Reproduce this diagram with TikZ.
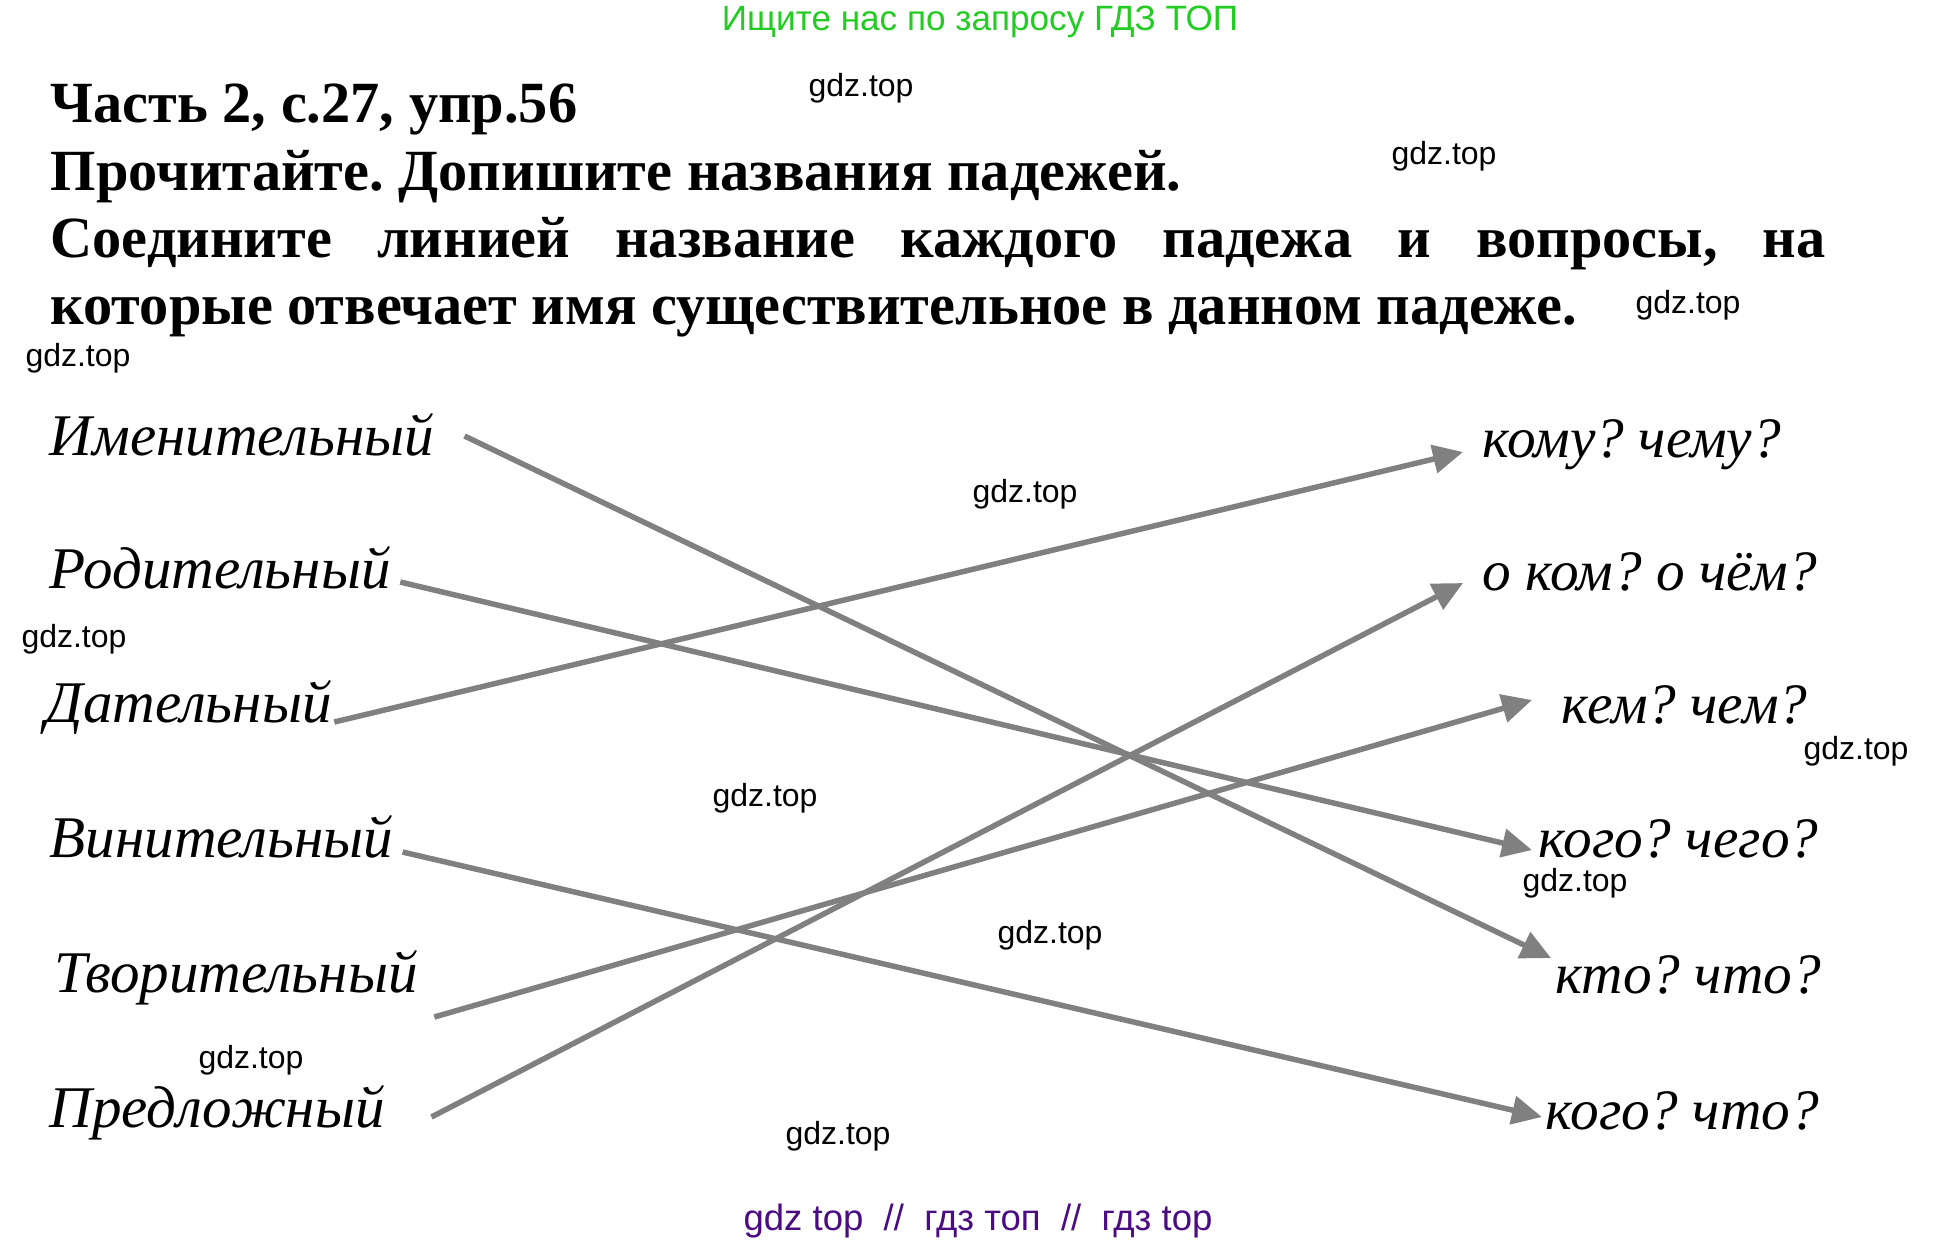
\documentclass[tikz,border=0pt]{standalone}
\usepackage{fontspec}
\setmainfont{Liberation Serif}
\setsansfont{Liberation Sans}
\usetikzlibrary{arrows.meta}
\frenchspacing
\definecolor{linkgray}{RGB}{128,128,128}
\definecolor{adgreen}{RGB}{34,204,34}
\definecolor{adpurple}{RGB}{75,12,130}
\tikzset{
  heading/.style={anchor=base west, inner sep=0pt, font=\fontsize{16.6}{20}\selectfont\bfseries},
  casename/.style={anchor=base west, inner sep=0pt, font=\fontsize{16.8}{20}\selectfont\itshape},
  question/.style={casename, font=\fontsize{16.3}{20}\selectfont\itshape},
  wmark/.style={inner sep=0pt, font=\fontsize{9.1}{11}\selectfont\sffamily},
  link/.style={draw=linkgray, line width=0.55mm, -{Triangle[length=3mm,width=2.8mm]}}
}
\begin{document}
\begin{tikzpicture}[x=0.1mm, y=-0.1mm]
  \useasboundingbox (0,0) rectangle (1953,1242);

  % banners
  \node[anchor=base, inner sep=0pt, font=\fontsize{10}{12}\selectfont\sffamily, text=adgreen] (banner) at (980,30) {Ищите нас по запросу ГДЗ ТОП};
  \node[anchor=base, inner sep=0pt, font=\fontsize{10.4}{13}\selectfont\sffamily, text=adpurple] (footer) at (978,1230) {gdz top\ \ //\ \ гдз топ\ \ //\ \ гдз top};

  % task text
  \node[heading] (part) at (50,122) {Часть 2, с.27, упр.56};
  \node[heading] (task1) at (50,190) {Прочитайте. Допишите названия падежей.};
  \node[heading] (task2) at (50,257) {\makebox[177.5mm][s]{Соедините линией название каждого падежа и вопросы, на}};
  \node[heading] (task3) at (50,324) {которые отвечает имя существительное в данном падеже.};

  % case names
  \node[casename] (nom) at (49,455) {Именительный};
  \node[casename] (gen) at (49,588) {Родительный};
  \node[casename] (dat) at (45,722) {Дательный};
  \node[casename] (acc) at (49,857) {Винительный};
  \node[casename] (ins) at (54,992) {Творительный};
  \node[casename] (pre) at (49,1127) {Предложный};

  % questions
  \node[question] (qdat) at (1482,457) {кому? чему?};
  \node[question] (qpre) at (1482,590) {о ком? о чём?};
  \node[question] (qins) at (1561,723) {кем? чем?};
  \node[question] (qgen) at (1538,857) {кого? чего?};
  \node[question] (qnom) at (1555,993) {кто? что?};
  \node[question] (qacc) at (1545,1129) {кого? что?};

  % links
  \draw[link] ([xshift=3mm,yshift=1.9mm]nom.base east) -- ([xshift=-0.4mm,yshift=3.5mm]qnom.base west);
  \draw[link] ([xshift=0.9mm,yshift=0.6mm]gen.base east) -- ([xshift=-0.6mm,yshift=0.7mm]qgen.base west);
  \draw[link] ([xshift=0.2mm]dat.base east) -- ([xshift=-1.9mm,yshift=0.5mm]qdat.base west);
  \draw[link] ([xshift=0.9mm,yshift=0.5mm]acc.base east) -- ([xshift=-0.3mm,yshift=1.2mm]qacc.base west);
  \draw[link] ([xshift=1.6mm,yshift=-2.5mm]ins.base east) -- ([xshift=-2.9mm,yshift=2.3mm]qins.base west);
  \draw[link] ([xshift=4.6mm,yshift=1mm]pre.base east) -- ([xshift=-1.9mm,yshift=0.7mm]qpre.base west);

  % watermarks
  \foreach \x/\y [count=\i] in {861/88, 1444/156, 1688/305, 78/358, 1025/494, 74/639,
      1856/751, 765/798, 1575/883, 1050/935, 251/1060, 838/1136}
    \node[wmark] (wm\i) at (\x,\y) {gdz.top};
\end{tikzpicture}
\end{document}
